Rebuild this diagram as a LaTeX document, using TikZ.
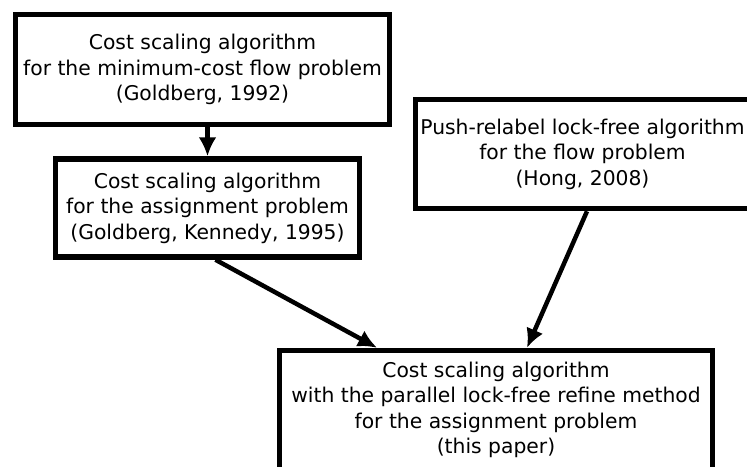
\documentclass[tikz,border=0pt]{standalone}
\usepackage{fontspec}
\setmainfont{DejaVu Sans}
\usepackage{tikz}
\usetikzlibrary{arrows.meta}

\begin{document}
\begin{tikzpicture}[x=1pt,y=-1pt,
  refbox/.style={draw,line width=5.5pt,align=center,inner sep=0pt,font=\fontsize{20.3}{25.5}\selectfont},
  dep/.style={line width=4.5pt,-{Latex[length=19pt,width=18pt]}}]
\useasboundingbox (0,0) rectangle (747,466);
\clip (0,0) rectangle (747,466);

%earlier work
\node[refbox,minimum width=374pt,minimum height=110pt] (goldberg) at (202.5,69.5) {Cost scaling algorithm\\for the minimum-cost flow problem\\(Goldberg, 1992)};
\node[refbox,minimum width=304pt,minimum height=98pt] (kennedy) at (207.5,208) {Cost scaling algorithm\\for the assignment problem\\(Goldberg, Kennedy, 1995)};
\node[refbox,minimum width=334pt,minimum height=109pt] (hong) at (582.5,154) {Push-relabel lock-free algorithm\\for the flow problem\\(Hong, 2008)};

%this paper
\node[refbox,minimum width=433pt,minimum height=119pt] (paper) at (496,410) {Cost scaling algorithm\\with the parallel lock-free refine method\\for the assignment problem\\(this paper)};

\draw[dep] (goldberg.south -| kennedy.north) -- (kennedy.north);
\draw[dep] ([xshift=8pt]kennedy.south) -- ([xshift=-119pt]paper.north);
\draw[dep] ([xshift=4.5pt]hong.south) -- ([xshift=31pt]paper.north);

\end{tikzpicture}
\end{document}
